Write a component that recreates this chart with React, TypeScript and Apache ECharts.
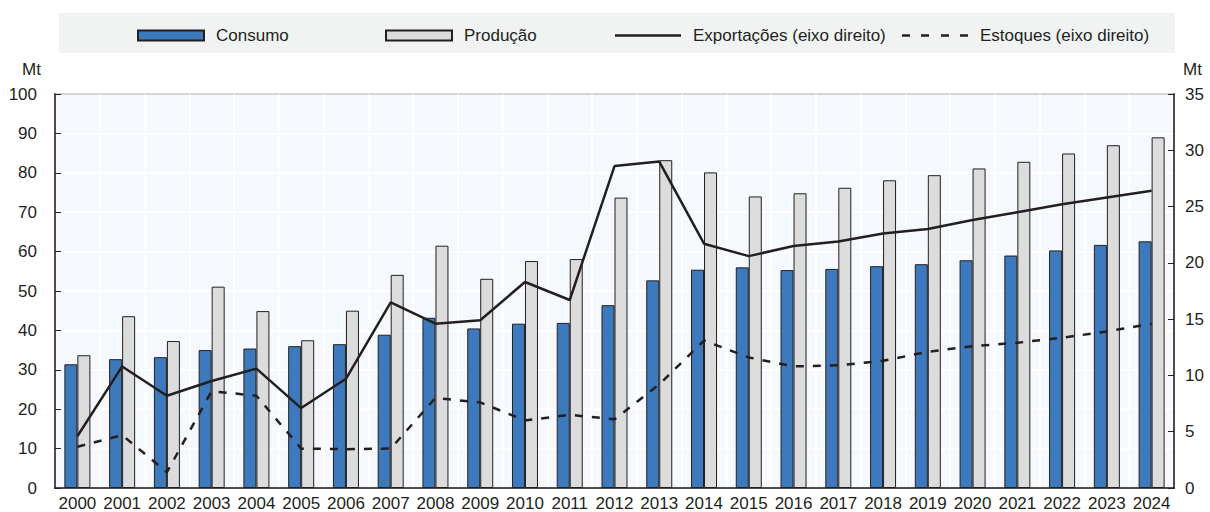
import React, { useEffect, useRef } from "react";
import * as echarts from "echarts";

const years = ["2000","2001","2002","2003","2004","2005","2006","2007","2008","2009","2010","2011","2012","2013","2014","2015","2016","2017","2018","2019","2020","2021","2022","2023","2024"];
const consumo = [31.4,32.7,33.2,35.0,35.4,36.0,36.5,38.9,43.2,40.5,41.7,41.9,46.4,52.7,55.4,56.0,55.3,55.6,56.3,56.8,57.8,59.0,60.3,61.7,62.6];
const producao = [33.7,43.6,37.3,51.1,44.9,37.5,45.0,54.1,61.5,53.1,57.6,58.1,73.7,83.2,80.1,74.0,74.8,76.2,78.1,79.4,81.1,82.8,84.9,87.0,89.0];
const exportacoes = [4.6,10.8,8.2,9.5,10.6,7.1,9.7,16.5,14.6,14.9,18.3,16.7,28.6,29.0,21.7,20.6,21.5,21.9,22.6,23.0,23.8,24.5,25.2,25.8,26.4];
const estoques = [3.66,4.7,1.4,8.6,8.2,3.5,3.45,3.5,8.0,7.6,6.0,6.5,6.1,9.2,13.1,11.6,10.8,10.9,11.3,12.1,12.6,12.9,13.35,13.9,14.6];

const FONT = "'Liberation Sans Narrow', 'Arial Narrow', 'Liberation Sans', Arial, sans-serif";
const TXT = "#231f20";
const FS = 17;

export default function App() {
  const ref = useRef<HTMLDivElement>(null);
  useEffect(() => {
    if (!ref.current) return;
    const chart = echarts.init(ref.current, null, { renderer: "svg" });
    const legendBase = {
      top: 27,
      padding: 0,
      itemWidth: 66,
      itemHeight: 10,
      itemGap: 10,
      textStyle: { fontFamily: FONT, fontSize: FS, color: TXT, padding: [0, 0, 0, 7] },
      selectedMode: false,
    };
    chart.setOption({
      animation: false,
      textStyle: { fontFamily: FONT },
      graphic: [
        { type: "rect", shape: { x: 59, y: 13, width: 1116, height: 40 }, style: { fill: "#f1f3f3" }, z: -10 },
        { type: "text", x: 22, y: 61, style: { text: "Mt", font: `${FS}px ${FONT}`, fill: TXT } },
        { type: "text", x: 1183, y: 61, style: { text: "Mt", font: `${FS}px ${FONT}`, fill: TXT } },
      ],
      legend: [
        { ...legendBase, left: 137, data: [{ name: "Consumo", icon: "rect" }] },
        { ...legendBase, left: 385, data: [{ name: "Produção", icon: "rect" }] },
        { ...legendBase, left: 615, data: [{ name: "Exportações (eixo direito)", icon: "path://M0,0 L66,0 L66,2.5 L0,2.5 Z" }] },
        { ...legendBase, left: 902, data: [{ name: "Estoques (eixo direito)", icon: "path://M0,0 h8 v2.5 h-8 Z M19,0 h8 v2.5 h-8 Z M39,0 h8 v2.5 h-8 Z M58,0 h8 v2.5 h-8 Z" }] },
      ],
      grid: {
        left: 55, right: 36, top: 94, bottom: 23,
        show: true, backgroundColor: "#f5f9fe", borderColor: "#231f20", borderWidth: 1.5,
      },
      xAxis: {
        type: "category",
        data: years,
        boundaryGap: true,
        axisLine: { lineStyle: { color: "#231f20", width: 1.5 } },
        axisTick: { inside: true, length: 6, interval: 0, lineStyle: { color: "#231f20" } },
        axisLabel: { fontFamily: FONT, fontSize: FS, color: TXT, margin: 7, interval: 0 },
        splitLine: { show: true, interval: 0, lineStyle: { color: "#ffffff", width: 1.5 } },
      },
      yAxis: [
        {
          type: "value", min: 0, max: 100, interval: 10,
          axisLine: { show: true, lineStyle: { color: "#231f20", width: 1.5 } },
          axisTick: { show: true, inside: true, length: 6, lineStyle: { color: "#231f20" } },
          axisLabel: { fontFamily: FONT, fontSize: FS, color: TXT, margin: 18 },
          splitLine: { show: true, lineStyle: { color: "#ffffff", width: 1.5 } },
        },
        {
          type: "value", min: 0, max: 35, interval: 5,
          axisLine: { show: true, lineStyle: { color: "#231f20", width: 1.5 } },
          axisTick: { show: true, inside: true, length: 6, lineStyle: { color: "#231f20" } },
          axisLabel: { fontFamily: FONT, fontSize: FS, color: TXT, margin: 11 },
          splitLine: { show: false },
        },
      ],
      series: [
        {
          name: "Consumo", type: "bar", data: consumo, barWidth: 13, barGap: "0%",
          itemStyle: { color: "#3d7abd", borderColor: "#231f20", borderWidth: 1 },
        },
        {
          name: "Produção", type: "bar", data: producao, barWidth: 13, barGap: "0%",
          itemStyle: { color: "#dcdcdc", borderColor: "#231f20", borderWidth: 1 },
        },
        {
          name: "Exportações (eixo direito)", type: "line", yAxisIndex: 1, data: exportacoes,
          showSymbol: false, symbol: "none",
          lineStyle: { color: "#231f20", width: 2.5 }, itemStyle: { color: "#231f20" },
        },
        {
          name: "Estoques (eixo direito)", type: "line", yAxisIndex: 1, data: estoques,
          showSymbol: false, symbol: "none",
          lineStyle: { color: "#231f20", width: 2.5, type: [8, 9] }, itemStyle: { color: "#231f20" },
        },
      ],
    });
    return () => chart.dispose();
  }, []);
  return <div ref={ref} style={{ width: 1210, height: 512, position: "absolute", left: 0, top: 0 }} />;
}
